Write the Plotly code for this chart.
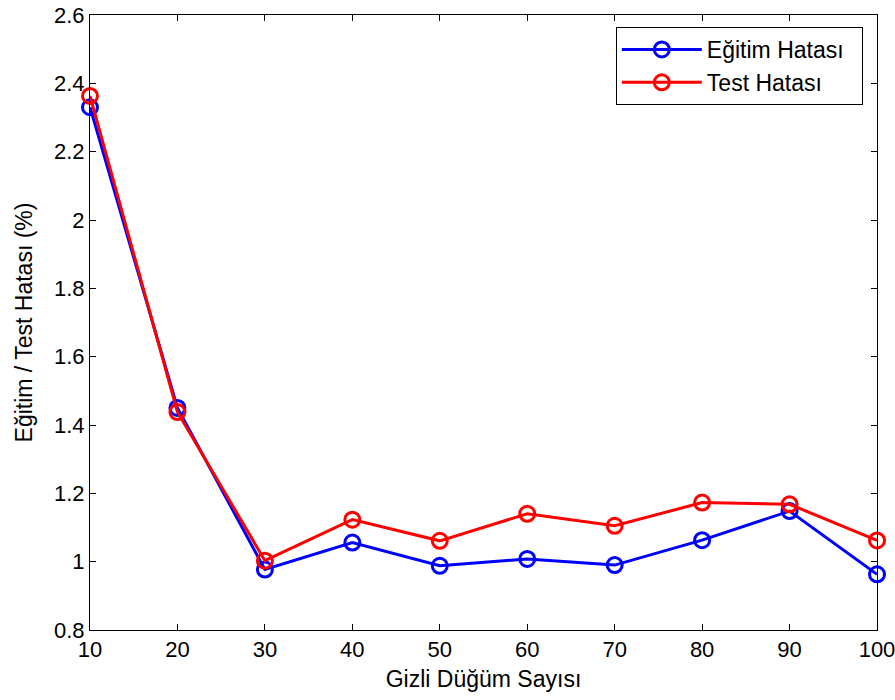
import plotly.graph_objects as go

hidden_nodes = [10, 20, 30, 40, 50, 60, 70, 80, 90, 100]
train_error = [2.33, 1.45, 0.977, 1.056, 0.988, 1.008, 0.99, 1.063, 1.148, 0.963]
test_error = [2.363, 1.438, 1.003, 1.123, 1.061, 1.14, 1.105, 1.173, 1.168, 1.062]
x_ticks = [10, 20, 30, 40, 50, 60, 70, 80, 90, 100]
y_ticks = [0.8, 1.0, 1.2, 1.4, 1.6, 1.8, 2.0, 2.2, 2.4, 2.6]
y_tick_labels = ["0.8", "1", "1.2", "1.4", "1.6", "1.8", "2", "2.2", "2.4", "2.6"]
series_names = ["Eğitim Hatası", "Test Hatası"]

FONT = "Liberation Sans, Arial"
PAD = "\u00a0\u00a0"

fig = go.Figure()
fig.add_trace(go.Scatter(
    x=hidden_nodes, y=train_error, name=series_names[0] + PAD,
    mode="lines+markers",
    line=dict(color="#0000FF", width=3),
    marker=dict(symbol="circle-open", size=15, color="#0000FF", line=dict(width=3, color="#0000FF")),
    cliponaxis=False,
))
fig.add_trace(go.Scatter(
    x=hidden_nodes, y=test_error, name=series_names[1] + PAD,
    mode="lines+markers",
    line=dict(color="#FF0000", width=3),
    marker=dict(symbol="circle-open", size=15, color="#FF0000", line=dict(width=3, color="#FF0000")),
    cliponaxis=False,
))

axis_common = dict(
    showline=True, linecolor="black", linewidth=1, mirror="ticks",
    ticks="inside", ticklen=6, tickcolor="black", tickwidth=1,
    showgrid=False, zeroline=False,
    tickfont=dict(family=FONT, size=22, color="black"),
    ticklabeloverflow="allow",
    automargin=False,
)

fig.update_layout(
    width=895, height=700,
    margin=dict(l=90, r=18, t=15, b=70),
    paper_bgcolor="white", plot_bgcolor="white",
    font=dict(family=FONT, color="black"),
    xaxis=dict(range=[10, 100], tickvals=x_ticks,
               title=dict(text="Gizli Düğüm Sayısı", font=dict(size=23), standoff=9),
               **axis_common),
    yaxis=dict(range=[0.8, 2.6], tickvals=y_ticks, ticktext=y_tick_labels,
               title=dict(text="Eğitim / Test Hatası (%)", font=dict(size=23), standoff=14),
               **axis_common),
    legend=dict(x=0.982, y=0.9805, xanchor="right", yanchor="top",
                bordercolor="black", borderwidth=1, bgcolor="white",
                font=dict(size=23, family=FONT),
                itemwidth=80, tracegroupgap=0),
    showlegend=True,
)

fig.write_html("out.html", config={"displayModeBar": False},
               post_script="document.body.style.margin='0px';")
